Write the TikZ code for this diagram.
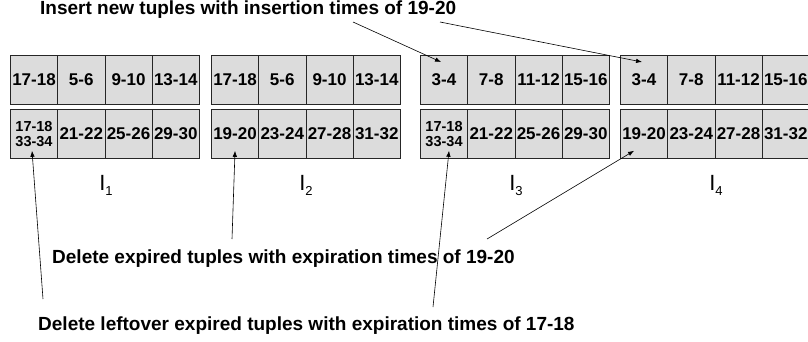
\documentclass[tikz,border=0pt]{standalone}
\usepackage{fontspec}
\setmainfont{Liberation Sans}
\usetikzlibrary{arrows.meta}
\definecolor{cellfill}{RGB}{220,220,220}
\tikzset{
  cell/.style={draw=black!85, line width=0.8pt, fill=cellfill, minimum width=47.25pt,
    minimum height=49pt, inner sep=0pt, anchor=north west,
    font=\bfseries\fontsize{17}{17}\selectfont},
  paircell/.style={cell, align=left, font=\bfseries\fontsize{14.5}{14.5}\selectfont},
  caption/.style={font=\bfseries\fontsize{19}{19}\selectfont, inner sep=0pt, anchor=base west},
  idx/.style={inner sep=0pt, font=\fontsize{22}{22}\selectfont},
  pointer/.style={line width=0.6pt, -{Latex[length=6pt,width=4.5pt]}}
}
\newcommand{\idxlabel}[1]{I\raisebox{-5pt}{\fontsize{13}{13}\selectfont #1}}
\begin{document}
\begin{tikzpicture}[x=1pt,y=-1pt]
\useasboundingbox (0,0) rectangle (808,341);
% four index blocks: top row of four cells, bottom row cells two to four
\foreach \b/\x/\ta/\tb/\tc/\td/\bb/\bc/\bd in {
  1/10/17-18/5-6/9-10/13-14/21-22/25-26/29-30,
  2/211/17-18/5-6/9-10/13-14/23-24/27-28/31-32,
  3/420/3-4/7-8/11-12/15-16/21-22/25-26/29-30,
  4/620/3-4/7-8/11-12/15-16/23-24/27-28/31-32}{
  \node[cell] (t\b a) at (\x,55) {\ta};
  \node[cell] (t\b b) at (\x+47.25,55) {\tb};
  \node[cell] (t\b c) at (\x+94.5,55) {\tc};
  \node[cell] (t\b d) at (\x+141.75,55) {\td};
  \node[cell] (u\b b) at (\x+47.25,109) {\bb};
  \node[cell] (u\b c) at (\x+94.5,109) {\bc};
  \node[cell] (u\b d) at (\x+141.75,109) {\bd};
}
% first cells of the bottom rows
\node[paircell] (u1a) at (10,109) {17-18\\33-34};
\node[cell] (u2a) at (211,109) {19-20};
\node[paircell] (u3a) at (420,109) {17-18\\33-34};
\node[cell] (u4a) at (620,109) {19-20};

% index names
\node[idx] (i1) at (106,185) {\idxlabel{1}};
\node[idx] (i2) at (306,185) {\idxlabel{2}};
\node[idx] (i3) at (516,185) {\idxlabel{3}};
\node[idx] (i4) at (716,185) {\idxlabel{4}};

% captions
\node[caption] (ins) at (40,14) {Insert new tuples with insertion times of 19-20};
\node[caption] (del) at (52,263) {Delete expired tuples with expiration times of 19-20};
\node[caption] (left) at (38,330) {Delete leftover expired tuples with expiration times of 17-18};

% arrow ends
\coordinate (ins1) at (353,22);
\coordinate (ins2) at (440,22);
\coordinate (del1) at (232,239);
\coordinate (del2) at (487,239);
\coordinate (left1) at (43,299);
\coordinate (left2) at (433,307);

\draw[pointer] (ins1) -- ([xshift=-3pt,yshift=-7pt]t3a.north);
\draw[pointer] (ins2) -- ([xshift=-2pt,yshift=-7pt]t4a.north);
\draw[pointer] (del1) -- ([yshift=8pt]u2a.south);
\draw[pointer] (del2) -- ([xshift=-10pt,yshift=8pt]u4a.south);
\draw[pointer] (left1) -- ([xshift=-2pt,yshift=8pt]u1a.south);
\draw[pointer] (left2) -- ([xshift=5pt,yshift=8pt]u3a.south);
\end{tikzpicture}
\end{document}
